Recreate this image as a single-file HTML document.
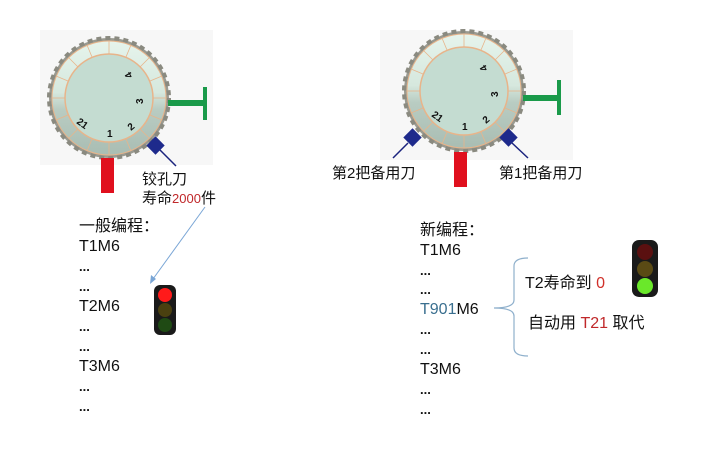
<!DOCTYPE html>
<html><head><meta charset="utf-8"><style>
html,body{margin:0;padding:0;background:#fff;}
svg{display:block;font-family:"Liberation Sans","Noto Sans CJK SC",sans-serif;}
</style></head><body>
<svg width="718" height="454" viewBox="0 0 718 454" xmlns="http://www.w3.org/2000/svg">
<defs>
<linearGradient id="rg" x1="0" y1="0" x2="0" y2="1">
  <stop offset="0" stop-color="#e6f4ec"/>
  <stop offset="0.45" stop-color="#d6e8de"/>
  <stop offset="0.6" stop-color="#b9ccc2"/>
  <stop offset="1" stop-color="#a9bdb3"/>
</linearGradient>
<g id="tur">
  <circle r="60" fill="#9a9a90" stroke="#8a8a80" stroke-width="4" stroke-dasharray="5 4"/>
  <circle r="57" fill="url(#rg)" stroke="#e8b48a" stroke-width="1"/>
  <g stroke="#e8b48a" stroke-width="0.8">
    <line x1="0" y1="-57" x2="0" y2="-44"/><line x1="0" y1="57" x2="0" y2="44"/>
    <line x1="-57" y1="0" x2="-44" y2="0"/><line x1="57" y1="0" x2="44" y2="0"/>
    <line x1="40" y1="40" x2="31" y2="31"/><line x1="-40" y1="40" x2="-31" y2="31"/>
    <line x1="40" y1="-40" x2="31" y2="-31"/><line x1="-40" y1="-40" x2="-31" y2="-31"/>
    <line x1="22" y1="-53" x2="17" y2="-41"/><line x1="-22" y1="-53" x2="-17" y2="-41"/>
    <line x1="22" y1="53" x2="17" y2="41"/><line x1="-22" y1="53" x2="-17" y2="41"/>
    <line x1="53" y1="22" x2="41" y2="17"/><line x1="-53" y1="22" x2="-41" y2="17"/>
    <line x1="53" y1="-22" x2="41" y2="-17"/><line x1="-53" y1="-22" x2="-41" y2="-17"/>
  </g>
  <circle r="44" fill="#c4dcd1" stroke="#e8b48a" stroke-width="1.5"/>
  <g font-size="10" font-weight="bold" fill="#111">
    <text x="-2" y="39">1</text>
    <text x="22" y="33" transform="rotate(-40 22 33)">2</text>
    <text x="34" y="6" transform="rotate(-90 34 6)">3</text>
    <text x="24" y="-22" transform="rotate(-120 24 -22)">4</text>
    <text x="-33" y="25" transform="rotate(35 -33 25)">21</text>
  </g>
</g>
</defs>
<rect x="40" y="30" width="173" height="135" fill="#f7f7f7"/>
<rect x="380" y="30" width="193" height="130" fill="#f7f7f7"/>

<use href="#tur" x="109" y="98"/>
<rect x="101" y="158" width="13" height="35" fill="#e0101e"/>
<rect x="168" y="100" width="37" height="6" fill="#1a9a4a"/>
<rect x="203" y="87" width="4" height="33" fill="#1a9a4a"/>
<line x1="160" y1="150" x2="176" y2="166" stroke="#1a237e" stroke-width="1.5"/>
<rect x="149" y="139" width="13" height="13" fill="#1e2a8c" transform="rotate(45 155.5 145.5)"/>
<text x="142" y="184" font-size="15" fill="#111">铰孔刀</text>
<text x="142" y="203" font-size="15" fill="#111">寿命<tspan fill="#c0282a" font-size="13">2000</tspan>件</text>

<use href="#tur" x="464" y="91"/>
<rect x="454" y="152" width="13" height="35" fill="#e0101e"/>
<rect x="523" y="95" width="36" height="6" fill="#1a9a4a"/>
<rect x="557" y="80" width="4" height="35" fill="#1a9a4a"/>
<line x1="408" y1="143" x2="393" y2="158" stroke="#1a237e" stroke-width="1.5"/>
<rect x="406" y="131" width="13" height="13" fill="#1e2a8c" transform="rotate(45 412.5 137.5)"/>
<line x1="512" y1="143" x2="528" y2="158" stroke="#1a237e" stroke-width="1.5"/>
<rect x="502" y="131" width="13" height="13" fill="#1e2a8c" transform="rotate(45 508.5 137.5)"/>
<text x="332" y="178" font-size="15" fill="#111">第2把备用刀</text>
<text x="499" y="178" font-size="15" fill="#111">第1把备用刀</text>

<line x1="205" y1="207" x2="153" y2="279" stroke="#7aa6d6" stroke-width="1"/>
<path d="M150 284 L151 275 L156 279 Z" fill="#7aa6d6"/>

<g font-size="16" fill="#111">
<text x="79" y="231">一般编程：</text>
<text x="79" y="251">T1M6</text>
<text x="79" y="271" font-weight="bold" font-size="13">...</text>
<text x="79" y="291" font-weight="bold" font-size="13">...</text>
<text x="79" y="311">T2M6</text>
<text x="79" y="331" font-weight="bold" font-size="13">...</text>
<text x="79" y="351" font-weight="bold" font-size="13">...</text>
<text x="79" y="371">T3M6</text>
<text x="79" y="391" font-weight="bold" font-size="13">...</text>
<text x="79" y="411" font-weight="bold" font-size="13">...</text>
</g>
<g font-size="16" fill="#111">
<text x="420" y="235">新编程：</text>
<text x="420" y="255">T1M6</text>
<text x="420" y="275" font-weight="bold" font-size="13">...</text>
<text x="420" y="294" font-weight="bold" font-size="13">...</text>
<text x="420" y="314"><tspan fill="#3a6f8f">T901</tspan>M6</text>
<text x="420" y="334" font-weight="bold" font-size="13">...</text>
<text x="420" y="354" font-weight="bold" font-size="13">...</text>
<text x="420" y="374">T3M6</text>
<text x="420" y="394" font-weight="bold" font-size="13">...</text>
<text x="420" y="414" font-weight="bold" font-size="13">...</text>
</g>

<path d="M528 258 Q514 258 514 266 L514 300 Q514 308 494 308 Q514 308 514 316 L514 348 Q514 356 528 356" fill="none" stroke="#8fb0cc" stroke-width="1.2"/>
<text x="525" y="288" font-size="16" fill="#111">T2寿命到 <tspan fill="#d0302a">0</tspan></text>
<text x="528" y="328" font-size="16" fill="#111">自动用 <tspan fill="#c0282a">T21</tspan> 取代</text>

<rect x="154" y="285" width="22" height="50" rx="6" fill="#1a1a1a"/>
<circle cx="165" cy="295" r="7" fill="#ff1a1a"/>
<circle cx="165" cy="310" r="7" fill="#4a4010"/>
<circle cx="165" cy="325" r="7" fill="#1f4a14"/>
<rect x="632" y="240" width="26" height="57" rx="7" fill="#1a1a1a"/>
<circle cx="645" cy="252" r="8" fill="#5a1010"/>
<circle cx="645" cy="269" r="8" fill="#5a4a14"/>
<circle cx="645" cy="286" r="8" fill="#6ae82a"/>
</svg>
</body></html>
